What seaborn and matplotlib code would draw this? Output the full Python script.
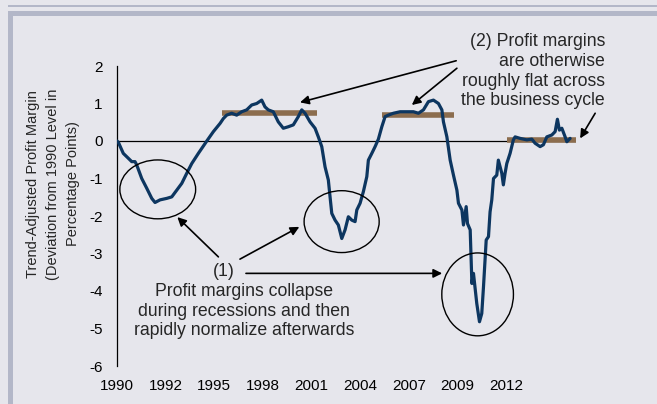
import matplotlib.pyplot as plt
from matplotlib import font_manager
from matplotlib.patches import Ellipse, Rectangle
import seaborn as sns
import pandas as pd

# x = months since Jan 1990 (the original uses a category axis, one label every 34 months)
months = [0, 0.9, 4.4, 7.9, 10.3, 12.6, 13.8, 17.3, 20.8, 24.3, 26.6, 30.1, 34.8, 38.3,
          41.8, 45.3, 48.8, 52.3, 56.9, 62.8, 67.4, 72.1, 74.4, 76.7, 80.2, 83.7, 87.2,
          90.7, 94.2, 97.7, 101.2, 103.5, 105.8, 109.3, 112.8, 116.3, 119.8, 123.3, 126.8,
          129.2, 131.5, 135.0, 138.5, 140.8, 143.2, 145.5, 147.8, 149.0, 150.2, 152.5,
          154.8, 157.2, 159.5, 161.8, 164.2, 166.5, 167.7, 170.0, 172.3, 174.7, 175.8,
          178.2, 180.5, 182.8, 185.2, 187.5, 189.8, 193.3, 198.0, 202.7, 207.3, 210.8,
          214.3, 217.8, 221.3, 224.8, 227.2, 228.3, 230.7, 233.0, 235.3, 237.7, 238.8,
          241.2, 242.3, 244.2, 245.1, 247.0, 248.2, 249.3, 251.6, 253.5, 255.1, 256.3,
          258.2, 259.8, 260.9, 262.1, 263.3, 265.6, 266.7, 269.1, 270.2, 271.4, 272.6,
          274.9, 277.2, 278.4, 281.9, 286.6, 290.1, 292.4, 295.9, 298.2, 300.6, 304.1,
          306.4, 308.0, 309.4, 311.1, 313.4, 314.6, 316.9]
margin = [0, -0.03, -0.33, -0.46, -0.55, -0.55, -0.64, -1.0, -1.26, -1.53, -1.64, -1.57,
          -1.53, -1.49, -1.31, -1.13, -0.86, -0.6, -0.33, 0.0, 0.25, 0.47, 0.6, 0.69, 0.74,
          0.69, 0.78, 0.83, 0.96, 1.0, 1.09, 0.91, 0.83, 0.78, 0.51, 0.34, 0.38, 0.43, 0.65,
          0.83, 0.74, 0.51, 0.34, 0.11, -0.15, -0.69, -1.04, -1.49, -1.93, -2.11, -2.24,
          -2.6, -2.37, -2.02, -2.11, -2.15, -1.84, -1.66, -1.35, -0.95, -0.51, -0.33, -0.15,
          0.05, 0.38, 0.65, 0.69, 0.74, 0.78, 0.78, 0.78, 0.74, 0.83, 1.05, 1.09, 1.0, 0.83,
          0.51, 0.11, -0.51, -0.91, -1.31, -1.66, -1.84, -2.24, -1.75, -2.2, -2.37, -3.8,
          -3.53, -4.33, -4.82, -4.6, -3.89, -2.64, -2.55, -1.89, -1.57, -1.0, -0.91, -0.51,
          -0.86, -1.17, -0.86, -0.6, -0.33, 0.03, 0.11, 0.07, 0.03, 0.05, -0.06, -0.15,
          -0.1, 0.11, 0.16, 0.25, 0.58, 0.29, 0.34, 0.11, -0.02, 0.07]

tick_pos = [0, 34, 68, 102, 136, 170, 204, 238, 272]
tick_labels = ['1990', '1992', '1995', '1998', '2001', '2004', '2007', '2009', '2012']

# flat "mid-cycle" levels
flat_start = [73.2, 185.2, 272.6]
flat_end = [140.1, 235.7, 321.6]
flat_level = [0.75, 0.69, 0.03]

bg = '#E6E6EC'
frame = '#B3B7C8'
navy = '#0D3660'
brown = '#8C6D4E'

sns.set_theme(style='white', rc={'axes.facecolor': bg, 'figure.facecolor': bg})
plt.rcParams['font.family'] = ['Liberation Sans', 'DejaVu Sans']
plt.rcParams['axes.unicode_minus'] = False

# axis text in the original is a narrow Arial; fall back to regular at smaller size
installed = {f.name for f in font_manager.fontManager.ttflist}
if 'Liberation Sans Narrow' in installed:
    axis_font = ['Liberation Sans Narrow', 'DejaVu Sans']
    tick_fs, ylab_fs, ylab_ls = 13, 13, 1.2
else:
    axis_font = ['Liberation Sans', 'DejaVu Sans']
    tick_fs, ylab_fs, ylab_ls = 11, 10.5, 1.5
note_fs = 12.7

fig = plt.figure(figsize=(6.57, 4.04), dpi=100)
ax = fig.add_axes([117/657, 1-366/404, (576-117)/657, 300/404])

df = pd.DataFrame({'month': months, 'margin': margin})

ax.axhline(0, color='black', lw=0.9, zorder=1)
ax.hlines(flat_level, flat_start, flat_end, colors=brown, lw=4, zorder=2)
sns.lineplot(data=df, x='month', y='margin', color=navy, lw=2.3, ax=ax, zorder=3)

ax.set_xlim(0, 321)
ax.set_ylim(-6, 2)
ax.set_yticks(range(-6, 3))
ax.set_xticks(tick_pos)
ax.set_xticklabels(tick_labels)
ax.tick_params(axis='both', length=0, labelsize=tick_fs, colors='black')
ax.tick_params(axis='x', pad=9.5)
ax.tick_params(axis='y', pad=10.5)
for lab in ax.get_xticklabels() + ax.get_yticklabels():
    lab.set_family(axis_font)
ax.set_xlabel('')
ax.set_ylabel('')
for s in ['top', 'right', 'bottom']:
    ax.spines[s].set_visible(False)
ax.spines['left'].set_color('black')
ax.spines['left'].set_linewidth(0.9)

# circles round the recessions
for cx, cy, w, h in [(28.5, -1.29, 53, 1.57), (157.1, -2.15, 52.5, 1.65), (252.2, -4.09, 50.1, 2.21)]:
    ax.add_patch(Ellipse((cx, cy), w, h, fill=False, ec='black', lw=1.0, zorder=4, clip_on=False))

arrows = [((70.9, -3.09), (42.2, -2.03)),
          ((86.0, -3.15), (127.5, -2.29)),
          ((90.2, -3.53), (227.4, -3.53)),
          ((237.2, 2.14), (128.0, 1.03)),
          ((237.7, 1.94), (206.2, 0.96)),
          ((334.4, 0.74), (323.9, 0.07))]
for tail, tip in arrows:
    ax.annotate('', xy=tip, xytext=tail, annotation_clip=False,
                arrowprops=dict(arrowstyle='-|>', color='black', lw=1.2,
                                mutation_scale=13, shrinkA=0, shrinkB=0))

fig.text(605/657, 1-71.4/404,
         '(2) Profit margins\nare otherwise\nroughly flat across\nthe business cycle',
         ha='right', va='center', multialignment='right', fontsize=note_fs, linespacing=1.21)
fig.text(224/657, 1-271.7/404, '(1)', ha='center', va='center', fontsize=note_fs)
fig.text(244/657, 1-311/404,
         'Profit margins collapse\nduring recessions and then\nrapidly normalize afterwards',
         ha='center', va='center', multialignment='center', fontsize=note_fs, linespacing=1.21)
fig.text(53/657, 1-184/404,
         'Trend-Adjusted Profit Margin\n(Deviation from 1990 Level in\nPercentage Points)',
         ha='center', va='center', rotation=90, multialignment='center', fontsize=ylab_fs,
         linespacing=ylab_ls, family=axis_font)

# slide frame
fig.patches.append(Rectangle((8/657, 1-6.7/404), 1, 2/404, transform=fig.transFigure,
                             color=frame, lw=0))
fig.patches.append(Rectangle((8/657, 1-16/404), 1, 5/404, transform=fig.transFigure,
                             color=frame, lw=0))
fig.patches.append(Rectangle((8/657, 0), 5/657, 1-11/404, transform=fig.transFigure,
                             color=frame, lw=0))

fig.savefig('out.png', dpi=100, facecolor=bg)
